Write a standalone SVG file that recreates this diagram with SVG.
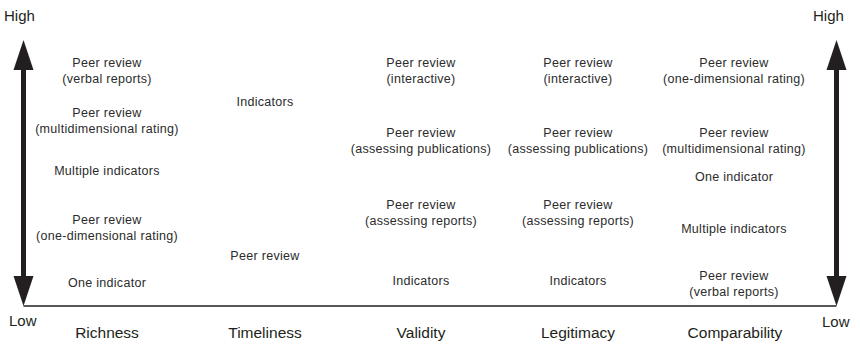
<svg xmlns="http://www.w3.org/2000/svg" width="860" height="344" viewBox="0 0 860 344">
  <style>
    .item { font-family: "Liberation Sans", Arial, sans-serif; font-size: 12.5px; letter-spacing: 0.3px; fill: #2b2b2b; text-anchor: middle; }
    .axis { font-family: "Liberation Sans", Arial, sans-serif; font-size: 15.5px; fill: #231f20; text-anchor: middle; }
    .end { font-family: "Liberation Sans", Arial, sans-serif; font-size: 15px; fill: #231f20; }
    .shaft { stroke: #231f20; stroke-width: 5; fill: none; }
    .base { stroke: #231f20; stroke-width: 1.6; fill: none; }
    .head { fill: #231f20; }
  </style>
  <rect width="860" height="344" fill="#ffffff"/>

  <!-- axes: two double-headed vertical scales joined by a baseline -->
  <g id="connectors">
    <line class="base" x1="23.5" y1="306" x2="836.5" y2="306"/>
    <line class="shaft" x1="23.5" y1="66" x2="23.5" y2="280"/>
    <polygon class="head" points="23.5,40 33.5,70 13.5,70"/>
    <polygon class="head" points="23.5,306 33.5,276 13.5,276"/>
    <line class="shaft" x1="836.5" y1="66" x2="836.5" y2="280"/>
    <polygon class="head" points="836.5,40 846.5,70 826.5,70"/>
    <polygon class="head" points="836.5,306 846.5,276 826.5,276"/>
  </g>

  <g id="scale-labels">
    <text class="end" x="4" y="21">High</text>
    <text class="end" x="813" y="21">High</text>
    <text class="end" x="9" y="326">Low</text>
    <text class="end" x="822" y="327">Low</text>
  </g>

  <g id="criteria">
    <text class="axis" x="107" y="338">Richness</text>
    <text class="axis" x="265" y="338">Timeliness</text>
    <text class="axis" x="421" y="338">Validity</text>
    <text class="axis" x="578" y="338">Legitimacy</text>
    <text class="axis" x="735" y="338">Comparability</text>
  </g>

  <!-- Richness -->
  <g id="richness-verbal"><text class="item" x="107" y="67">Peer review</text><text class="item" x="107" y="83">(verbal reports)</text></g>
  <g id="richness-multi"><text class="item" x="107" y="117">Peer review</text><text class="item" x="107" y="133">(multidimensional rating)</text></g>
  <g id="richness-multiple-ind"><text class="item" x="107" y="175">Multiple indicators</text></g>
  <g id="richness-one-dim"><text class="item" x="107" y="224">Peer review</text><text class="item" x="107" y="240">(one-dimensional rating)</text></g>
  <g id="richness-one-ind"><text class="item" x="107" y="287">One indicator</text></g>

  <!-- Timeliness -->
  <g id="timeliness-ind"><text class="item" x="265" y="106">Indicators</text></g>
  <g id="timeliness-peer"><text class="item" x="265" y="260">Peer review</text></g>

  <!-- Validity -->
  <g id="validity-interactive"><text class="item" x="421" y="67">Peer review</text><text class="item" x="421" y="83">(interactive)</text></g>
  <g id="validity-publications"><text class="item" x="421" y="137">Peer review</text><text class="item" x="421" y="153">(assessing publications)</text></g>
  <g id="validity-reports"><text class="item" x="421" y="209">Peer review</text><text class="item" x="421" y="225">(assessing reports)</text></g>
  <g id="validity-ind"><text class="item" x="421" y="285">Indicators</text></g>

  <!-- Legitimacy -->
  <g id="legitimacy-interactive"><text class="item" x="578" y="67">Peer review</text><text class="item" x="578" y="83">(interactive)</text></g>
  <g id="legitimacy-publications"><text class="item" x="578" y="137">Peer review</text><text class="item" x="578" y="153">(assessing publications)</text></g>
  <g id="legitimacy-reports"><text class="item" x="578" y="209">Peer review</text><text class="item" x="578" y="225">(assessing reports)</text></g>
  <g id="legitimacy-ind"><text class="item" x="578" y="285">Indicators</text></g>

  <!-- Comparability -->
  <g id="comparability-one-dim"><text class="item" x="734" y="67">Peer review</text><text class="item" x="734" y="83">(one-dimensional rating)</text></g>
  <g id="comparability-multi"><text class="item" x="734" y="137">Peer review</text><text class="item" x="734" y="153">(multidimensional rating)</text></g>
  <g id="comparability-one-ind"><text class="item" x="734" y="181">One indicator</text></g>
  <g id="comparability-multiple-ind"><text class="item" x="734" y="233">Multiple indicators</text></g>
  <g id="comparability-verbal"><text class="item" x="734" y="280">Peer review</text><text class="item" x="734" y="296">(verbal reports)</text></g>
</svg>
